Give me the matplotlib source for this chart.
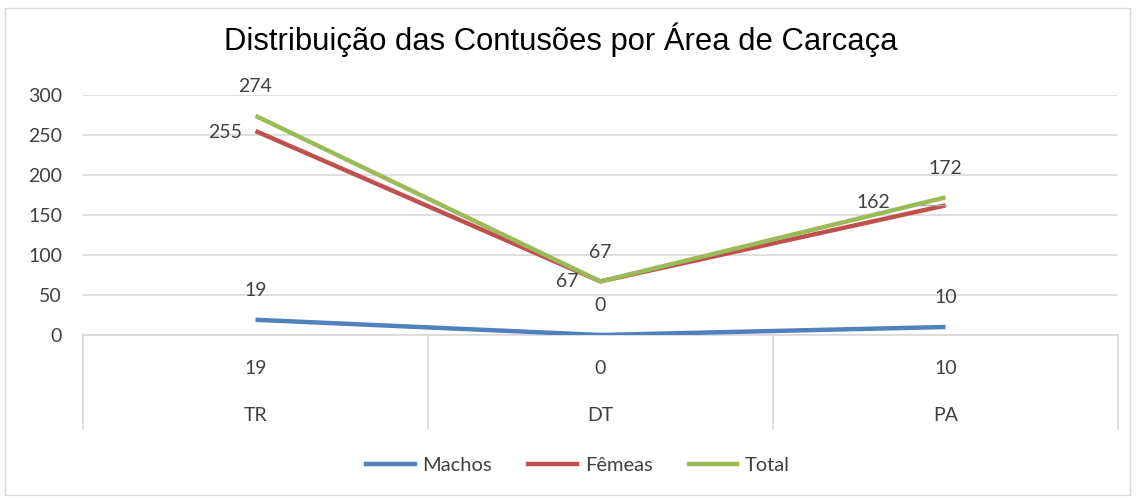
import matplotlib.pyplot as plt
from matplotlib.patches import Rectangle

categories = ['TR', 'DT', 'PA']
machos = [19, 0, 10]
femeas = [255, 67, 162]
total = [274, 67, 172]
yticks = [0, 50, 100, 150, 200, 250, 300]

BLUE = '#4F81BD'
RED = '#C0504D'
GREEN = '#9BBB59'
TXT = '#404040'
GRID = '#D9D9D9'

plt.rcParams['font.family'] = ['Lato', 'DejaVu Sans']

fig = plt.figure(figsize=(11.36, 4.98), dpi=100)
# outer chart border
fig.patches.append(Rectangle((5 / 1136, 3 / 498), 1125 / 1136, 487 / 498, transform=fig.transFigure,
                             fill=False, edgecolor=GRID, linewidth=1))

ax = fig.add_axes([83 / 1136, (498 - 335) / 498, 1035 / 1136, 240 / 498])
x = list(range(len(categories)))

ax.plot(x, machos, color=BLUE, linewidth=3.2, solid_capstyle='butt', zorder=3)
ax.plot(x, femeas, color=RED, linewidth=3.2, solid_capstyle='butt', zorder=3)
ax.plot(x, total, color=GREEN, linewidth=3.2, solid_capstyle='butt', zorder=4)

ax.set_xlim(-0.5, 2.5)
ax.set_ylim(0, 300)
ax.set_yticks(yticks)
ax.set_xticks([])
ax.tick_params(axis='y', length=0, labelsize=14, labelcolor=TXT, pad=15)
ax.grid(axis='y', color=GRID, linewidth=1.2)
ax.set_axisbelow(True)
for s in ['top', 'right', 'left']:
    ax.spines[s].set_visible(False)
ax.spines['bottom'].set_color(GRID)
ax.spines['bottom'].set_linewidth(1.2)

# data labels
lbl = dict(fontsize=14, color=TXT, zorder=5)
for i, v in enumerate(machos):
    ax.annotate(str(v), (i, v), xytext=(0, 21), textcoords='offset points', ha='center', va='center', **lbl)
for i, v in enumerate(total):
    ax.annotate(str(v), (i, v), xytext=(0, 21), textcoords='offset points', ha='center', va='center', **lbl)
ax.annotate(str(femeas[0]), (0, femeas[0]), xytext=(-22, -1), textcoords='offset points',
            ha='center', va='center', **lbl)
ax.annotate(str(femeas[1]), (1, femeas[1]), xytext=(-24, 0), textcoords='offset points',
            ha='center', va='center', **lbl)
ax.annotate(str(femeas[2]), (2, femeas[2]), xytext=(-52, 2), textcoords='offset points',
            ha='center', va='center',
            arrowprops=dict(arrowstyle='-', color='#A6A6A6', linewidth=1,
                            connectionstyle='angle,angleA=-20,angleB=0,rad=0',
                            shrinkA=18, shrinkB=0), **lbl)

# multi-level category axis below the plot
trans = ax.get_xaxis_transform()
for b in [-0.5, 0.5, 1.5, 2.5]:
    ax.plot([b, b], [0, -0.39], transform=trans, color=GRID, linewidth=1.2, clip_on=False)
for i, cat in enumerate(categories):
    ax.text(i, -0.14, str(machos[i]), transform=trans, ha='center', va='center', fontsize=14, color=TXT)
    ax.text(i, -0.335, cat, transform=trans, ha='center', va='center', fontsize=14, color=TXT)

fig.text(0.494, 0.921, 'Distribuição das Contusões por Área de Carcaça', ha='center', va='center',
         fontsize=22.3, family=['Liberation Sans Narrow', 'Liberation Sans'], color='#000000')

handles = [plt.Line2D([], [], color=c, linewidth=3.2) for c in (BLUE, RED, GREEN)]
fig.legend(handles, ['Machos', 'Fêmeas', 'Total'], loc='center', bbox_to_anchor=(0.509, 0.066),
           ncol=3, frameon=False, fontsize=14.5, labelcolor=TXT, handlelength=2.4, columnspacing=1.8,
           handletextpad=0.4)

fig.savefig('out.png', dpi=100)
